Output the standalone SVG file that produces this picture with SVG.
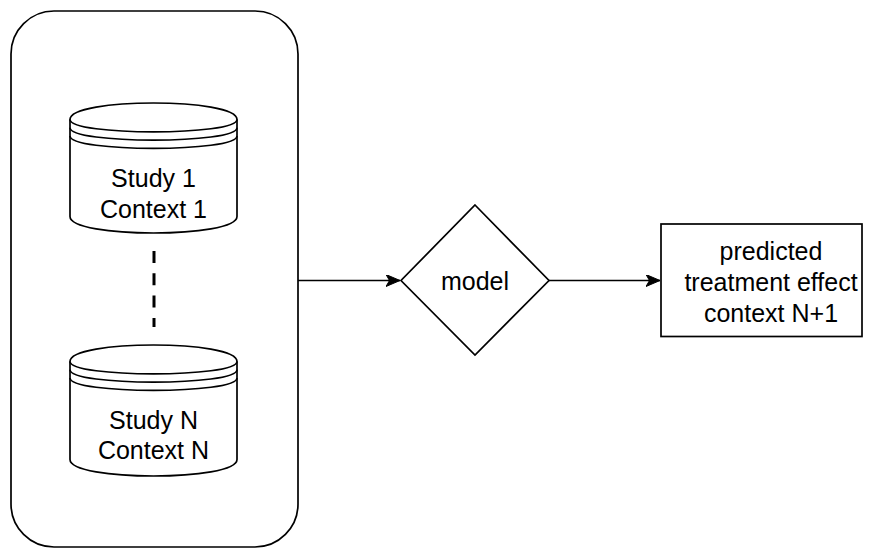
<svg xmlns="http://www.w3.org/2000/svg" width="875" height="548" viewBox="0 0 875 548">
  <style>
    .shape { fill: #ffffff; stroke: #000000; stroke-width: 1.7; }
    .inner { fill: none; stroke: #000000; stroke-width: 1.7; }
    .label { font-family: "Liberation Sans", Arial, sans-serif; font-size: 25px; fill: #000000; text-anchor: middle; }
    .edge { fill: none; stroke: #000000; stroke-width: 1.7; }
    .dashed { fill: none; stroke: #000000; stroke-width: 3; stroke-dasharray: 12 10.3; }
  </style>
  <defs>
    <marker id="arrow" markerUnits="userSpaceOnUse" viewBox="0 0 14 12" refX="14" refY="6" markerWidth="14" markerHeight="12" orient="auto">
      <path d="M0,0 L14,6 L0,12 L3.5,6 Z" fill="#000000" stroke="#000000" stroke-width="1"/>
    </marker>
  </defs>
  <rect width="875" height="548" fill="#ffffff"/>

  <g id="container">
    <rect class="shape" x="11" y="11" width="287" height="536" rx="43" ry="43"/>
  </g>

  <g id="study1">
    <path class="shape" d="M70,119.5 C70,97.5 237,97.5 237,119.5 L237,216.5 C237,238.5 70,238.5 70,216.5 Z"/>
    <path class="inner" d="M70,119.5 C70,136 237,136 237,119.5 M70,127.75 C70,144.25 237,144.25 237,127.75 M70,136 C70,152.5 237,152.5 237,136"/>
    <text class="label" x="153.5" y="187">Study 1</text>
    <text class="label" x="153.5" y="218">Context 1</text>
  </g>

  <g id="studyN">
    <path class="shape" d="M70,361.5 C70,339.5 237,339.5 237,361.5 L237,459.5 C237,481.5 70,481.5 70,459.5 Z"/>
    <path class="inner" d="M70,361.5 C70,378 237,378 237,361.5 M70,369.75 C70,386.25 237,386.25 237,369.75 M70,378 C70,394.5 237,394.5 237,378"/>
    <text class="label" x="153.5" y="429">Study N</text>
    <text class="label" x="153.5" y="459">Context N</text>
  </g>

  <g id="model">
    <path class="shape" d="M475,205 L549,280.5 L475,355 L401,280.5 Z"/>
    <text class="label" x="475" y="290">model</text>
  </g>

  <g id="prediction">
    <rect class="shape" x="661" y="224" width="201" height="112.5"/>
    <text class="label" x="771" y="260">predicted</text>
    <text class="label" x="771" y="291">treatment effect</text>
    <text class="label" x="771" y="322">context N+1</text>
  </g>

  <g id="connectors">
    <line class="dashed" x1="154" y1="251" x2="154" y2="327"/>
    <line class="edge" x1="298" y1="280.5" x2="400" y2="280.5" marker-end="url(#arrow)"/>
    <line class="edge" x1="549" y1="280.5" x2="660" y2="280.5" marker-end="url(#arrow)"/>
  </g>
</svg>
